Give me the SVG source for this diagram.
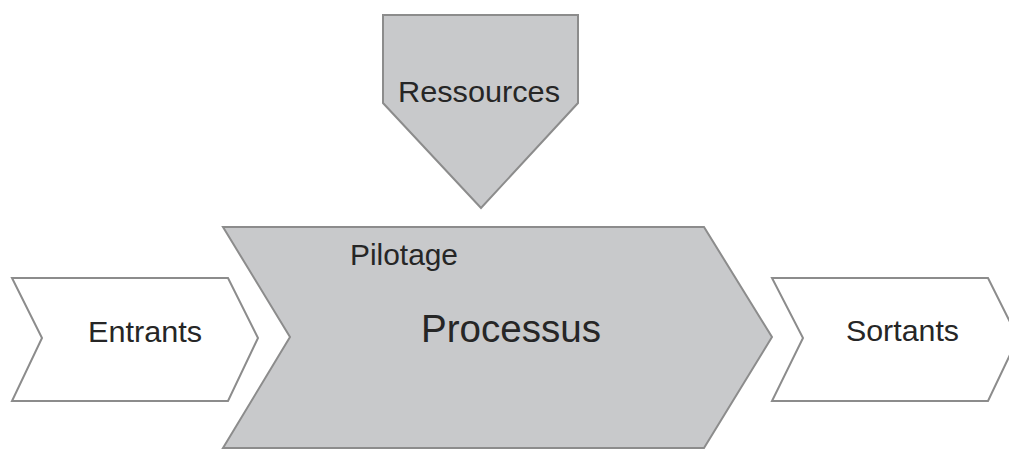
<svg xmlns="http://www.w3.org/2000/svg" width="1009" height="451" viewBox="0 0 1009 451">
  <style>
    .grey { fill: #c8c9cb; stroke: #8c8c8c; stroke-width: 2; stroke-linejoin: miter; }
    .white { fill: #ffffff; stroke: #8c8c8c; stroke-width: 2; stroke-linejoin: miter; }
    .lbl { font-family: "Liberation Sans", Arial, sans-serif; fill: #262626; }
  </style>
  <rect width="1009" height="451" fill="#ffffff"/>
  <g id="connectors"></g>
  <g id="ressources">
    <polygon class="grey" points="383,15 578,15 578,103 481,208 383,103"/>
    <text class="lbl" x="398" y="102" font-size="30" textLength="162" lengthAdjust="spacingAndGlyphs">Ressources</text>
  </g>
  <g id="processus">
    <polygon class="grey" points="223,227 704,227 772,337 704,448 223,448 290,337"/>
    <text class="lbl" x="350" y="265" font-size="30" textLength="108" lengthAdjust="spacingAndGlyphs">Pilotage</text>
    <text class="lbl" x="421" y="342" font-size="38" textLength="180" lengthAdjust="spacingAndGlyphs">Processus</text>
  </g>
  <g id="entrants">
    <polygon class="white" points="12,278 228,278 258,338 228,401 12,401 42,338"/>
    <text class="lbl" x="88" y="342" font-size="30" textLength="114" lengthAdjust="spacingAndGlyphs">Entrants</text>
  </g>
  <g id="sortants">
    <polygon class="white" points="772,278 988,278 1018,338 988,401 772,401 803,338"/>
    <text class="lbl" x="846" y="341" font-size="30" textLength="113" lengthAdjust="spacingAndGlyphs">Sortants</text>
  </g>
</svg>
